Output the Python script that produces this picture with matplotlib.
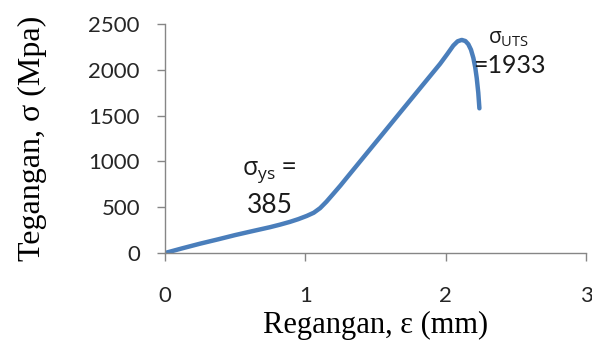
import numpy as np
import matplotlib
matplotlib.use("Agg")
import matplotlib.pyplot as plt

# stress-strain data (strain in mm, stress in MPa)
regangan = [0.0, 0.12, 0.25, 0.38, 0.5, 0.62, 0.748, 0.82, 0.89, 0.95,
            1.01, 1.06, 1.105, 1.15, 1.2, 1.25, 1.295, 1.365, 1.437,
            1.55, 1.68, 1.817, 1.96, 2.01, 2.054, 2.085, 2.114, 2.14,
            2.161, 2.18, 2.197, 2.21, 2.221, 2.232, 2.24]
tegangan = [0, 50, 102, 150, 196, 238, 282, 310, 340, 370,
            405, 440, 490, 560, 648, 737, 822, 953, 1088,
            1299, 1543, 1799, 2066, 2170, 2265, 2312, 2327, 2315,
            2280, 2220, 2130, 2030, 1910, 1750, 1580]

xticks = [0, 1, 2, 3]
yticks = [0, 500, 1000, 1500, 2000, 2500]

sigma_ys = 385
sigma_uts = 1933

plt.rcParams['mathtext.fontset'] = 'custom'
plt.rcParams['mathtext.rm'] = 'Open Sans'
plt.rcParams['mathtext.it'] = 'Open Sans'

fig = plt.figure(figsize=(5.92, 3.44), dpi=100)
ax = fig.add_axes([0.2787, 0.2645, 0.7113, 0.6655])

ax.plot(regangan, tegangan, color='#4a7ebb', lw=3.2,
        solid_capstyle='round', solid_joinstyle='round')

ax.set_xlim(0, 3)
ax.set_ylim(0, 2500)
ax.set_xticks(xticks)
ax.set_yticks(yticks)
for s in ['top', 'right']:
    ax.spines[s].set_visible(False)
for s in ['left', 'bottom']:
    ax.spines[s].set_color('#868686')
    ax.spines[s].set_linewidth(1.0)
ax.tick_params(direction='out', length=6, width=1.0, color='#868686',
               labelsize=16, labelcolor='#262626')
ax.tick_params(axis='y', pad=12)
ax.tick_params(axis='x', pad=18)
for lab in ax.get_xticklabels() + ax.get_yticklabels():
    lab.set_family('Lato')

ax.set_xlabel('Regangan, ε (mm)', family='Liberation Serif', fontsize=22, labelpad=3)
ax.set_ylabel('Tegangan, σ (Mpa)', family='Liberation Serif', fontsize=23, labelpad=30)

# annotations for yield and ultimate strength
ax.text(0.55, 851, r'$\sigma_{\mathrm{ys}}$ =', fontsize=18, family='Open Sans',
        color='#1a1a1a')
ax.text(0.585, 437, f'{sigma_ys}', fontsize=19, family='Lato', color='#1a1a1a')
ax.text(2.30, 2293, r'$\sigma_{\mathrm{UTS}}$', fontsize=15, family='Open Sans',
        color='#1a1a1a')
ax.text(2.195, 1965, f'={sigma_uts}', fontsize=18, family='Lato', color='#1a1a1a')

fig.savefig('out.png', dpi=100)
